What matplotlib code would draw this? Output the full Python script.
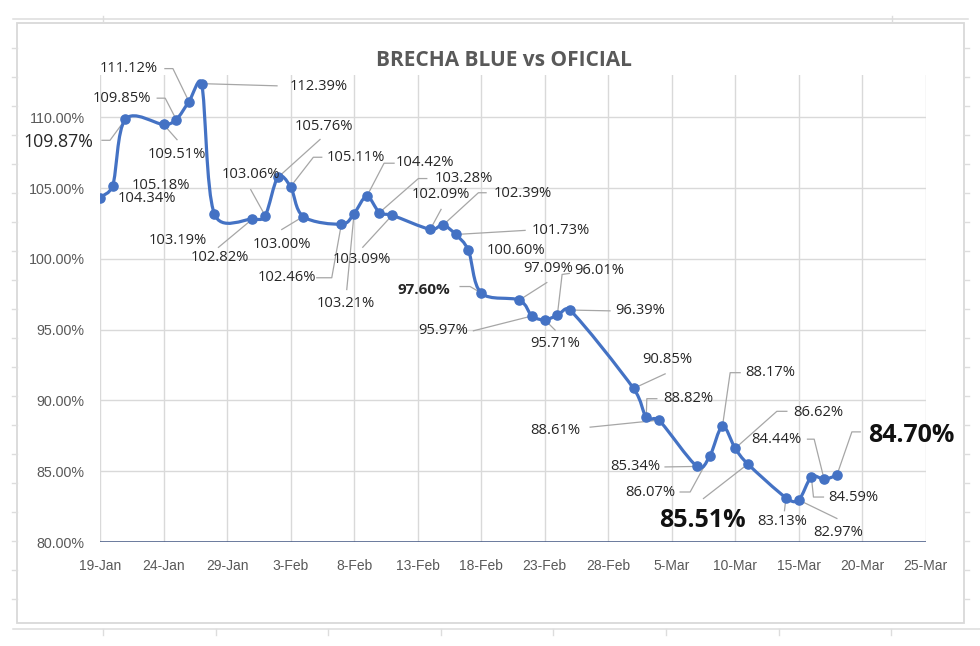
import matplotlib
matplotlib.use("Agg")
import matplotlib.pyplot as plt
import matplotlib.dates as mdates
from matplotlib.path import Path
from matplotlib.patches import PathPatch, Rectangle
from matplotlib.lines import Line2D
import numpy as np
import datetime as dt

# ---------------- data ----------------
dates = ["2022-01-19", "2022-01-20", "2022-01-21", "2022-01-24", "2022-01-25",
         "2022-01-26", "2022-01-27", "2022-01-28", "2022-01-31", "2022-02-01",
         "2022-02-02", "2022-02-03", "2022-02-04", "2022-02-07", "2022-02-08",
         "2022-02-09", "2022-02-10", "2022-02-11", "2022-02-14", "2022-02-15",
         "2022-02-16", "2022-02-17", "2022-02-18", "2022-02-21", "2022-02-22",
         "2022-02-23", "2022-02-24", "2022-02-25", "2022-03-02", "2022-03-03",
         "2022-03-04", "2022-03-07", "2022-03-08", "2022-03-09", "2022-03-10",
         "2022-03-11", "2022-03-14", "2022-03-15", "2022-03-16", "2022-03-17",
         "2022-03-18"]
brecha = [104.34, 105.18, 109.87, 109.51, 109.85, 111.12, 112.39, 103.19, 102.82, 103.06,
          105.76, 105.11, 103.00, 102.46, 103.21, 104.42, 103.28, 103.09, 102.09, 102.39,
          101.73, 100.60, 97.60, 97.09, 95.97, 95.71, 96.01, 96.39, 90.85, 88.82,
          88.61, 85.34, 86.07, 88.17, 86.62, 85.51, 83.13, 82.97, 84.59, 84.44,
          84.70]
y_ticks = [80, 85, 90, 95, 100, 105, 110]
title = "BRECHA BLUE vs OFICIAL"

# ---------------- label layout (pixel offsets, y down) ----------------
label_offsets = [(47, 0.6), (48, 0), (-67, 23), (13.5, 30), (-54, -21), (-60, -33), (117, 3),
                 (-37, 27), (-33, 38), (-14, -41.5), (45.7, -51), (65.5, -28.7), (-21.7, 27.8),
                 (-54.8, 53.6), (-8, 90), (58.3, -33.5), (84.6, -33.9), (-30, 44), (10.8, -34.6),
                 (79.6, -31.8), (105.4, -4.1), (47.7, 0), (-57, -3), (29, -31.6), (-88.8, 14.8),
                 (10.5, 23.8), (41.8, -44.6), (70, 0.8), (33.3, -28.9), (42, -18.5),
                 (-103.8, 10.3), (-62, 0), (-59.6, 35.9), (47.7, -54), (83, -36.3),
                 (-45.2, 56.7), (-3.3, 23.4), (39.5, 32.9), (41.8, 20.5), (-48, -40),
                 (74.4, -40.3)]
leaders = [[], [], [(-23.4, 21), (-15.4, 21)], [(13.5, 15.3)], [(-19, -21.4), (-11, -21.4)],
           [(-24, -33), (-16, -33)], [(75.4, 2.2)], [], [(-34, 28.3)], [(-14.4, -26)],
           [(42.2, -38)], [(31.2, -29.4), (22.8, -29.4)], [(-21.5, 13)],
           [(-24.6, 53.6), (-9.6, 53.6)], [(-7.3, 76)], [(27.3, -33.2), (17.3, -33.2)],
           [(47.3, -34), (38.9, -34)], [(-29.4, 32)], [(10.8, -20)], [(43.1, -32.4), (35.4, -32.4)],
           [(69.4, -4.1)], [], [(-21, -6.4), (-11, -6.4)], [(27.6, -17.6)], [(-58.5, 14.8)],
           [(10.5, 10.4)], [(12, -42), (4.8, -41)], [(40, 0.8)], [(31.6, -14.6)],
           [(10.6, -18.5), (0.6, -18.5)], [(-68.8, 7)], [(-32, 0.5)],
           [(-29.6, 35.9), (-19.6, 35.9)], [(17.7, -53.7), (7.7, -53.7)],
           [(51.7, -37), (41.7, -37)], [(-44.4, 34.5)], [(-1.5, 13)], [(38.2, 18.5)],
           [(12.1, 20), (2.1, 20)], [(-16.6, -40), (-9.9, -40)], [(23.4, -43.6), (15.1, -43.6)]]
label_style = ["n"] * len(brecha)
label_style[2] = "m"
label_style[22] = "b"
label_style[35] = "B"
label_style[40] = "B"

# ---------------- figure ----------------
W, H = 980, 646
fig = plt.figure(figsize=(W / 100, H / 100), dpi=100)
fig.patch.set_facecolor("white")

LBL_FONT = ["Open Sans", "DejaVu Sans"]
AX_FONT = ["Liberation Sans", "DejaVu Sans"]

ax_l, ax_r, ax_t, ax_b = 100, 925.7, 75, 542
ax = fig.add_axes([ax_l / W, 1 - ax_b / H, (ax_r - ax_l) / W, (ax_b - ax_t) / H])
ax.set_facecolor("none")

x = mdates.date2num([dt.datetime.strptime(d, "%Y-%m-%d") for d in dates])
y = np.array(brecha)

x0 = mdates.date2num(dt.datetime(2022, 1, 19))
x1 = mdates.date2num(dt.datetime(2022, 3, 25))
ax.set_xlim(x0, x1)
ax.set_ylim(80, 113)

# grid / ticks
xt = np.arange(x0, x1 + 0.5, 5)
ax.set_xticks(xt)
ax.set_xticklabels([mdates.num2date(v).strftime("%-d-%b") for v in xt],
                   family=AX_FONT, fontsize=10, color="#595959")
ax.set_yticks(y_ticks)
ax.set_yticklabels([f"{v:.2f}%" for v in y_ticks], family=AX_FONT, fontsize=10.3, color="#595959")
ax.tick_params(axis="both", length=0)
ax.tick_params(axis="y", pad=11)
ax.tick_params(axis="x", pad=12)
for v in xt:
    ax.axvline(v, color="#D9D9D9", lw=1, zorder=0)
for v in y_ticks[1:]:
    ax.axhline(v, color="#D9D9D9", lw=1, zorder=0)
for s in ax.spines.values():
    s.set_visible(False)
ax.axhline(80, color="#3F5380", lw=1.8, zorder=1)

# smoothed line (Excel-like bezier smoothing computed in screen space)
disp = ax.transData.transform(np.column_stack([x, y]))
inv = ax.transData.inverted()
n = len(disp)
verts = [disp[0]]
codes = [Path.MOVETO]
for i in range(n - 1):
    p0 = disp[i - 1] if i > 0 else disp[i]
    p1 = disp[i]
    p2 = disp[i + 1]
    p3 = disp[i + 2] if i + 2 < n else disp[i + 1]
    d12 = np.hypot(*(p2 - p1))
    d02 = np.hypot(*(p2 - p0))
    d13 = np.hypot(*(p3 - p1))
    f1 = 1 / 6 if d02 == 0 else min(1 / 6, 0.5 * d12 / d02)
    f2 = 1 / 6 if d13 == 0 else min(1 / 6, 0.5 * d12 / d13)
    c1 = p1 + (p2 - p0) * f1
    c2 = p2 - (p3 - p1) * f2
    verts += [c1, c2, p2]
    codes += [Path.CURVE4] * 3
verts = inv.transform(np.array(verts))
ax.add_patch(PathPatch(Path(verts, codes), facecolor="none", edgecolor="#4472C4",
                       lw=2.3, zorder=3, capstyle="round", joinstyle="round"))
ax.plot(x, y, linestyle="none", marker="o", ms=6.6, color="#4472C4", zorder=4)

# labels + leaders
for i, (xi, yi) in enumerate(zip(x, y)):
    dx, dy = label_offsets[i]
    st = label_style[i]
    kw = dict(family=LBL_FONT, color="#262626", fontsize=10.6)
    if st == "m":
        kw.update(fontsize=12.8)
    elif st == "b":
        kw.update(fontweight="bold", fontsize=11)
    elif st == "B":
        kw.update(fontweight="bold", fontsize=18, color="#111111")
    ax.annotate(f"{yi:.2f}%", xy=(xi, yi), xytext=(dx, -dy), textcoords="offset pixels",
                ha="center", va="center", zorder=6, annotation_clip=False, **kw)
    if leaders[i]:
        px, py = ax.transData.transform((xi, yi))
        pp = [(px + a, py - b) for a, b in leaders[i]] + [(px, py)]
        dat = inv.transform(pp)
        ax.plot(dat[:, 0], dat[:, 1], color="#A6A6A6", lw=0.9, zorder=2, clip_on=False)

# title
fig.text(504 / W, 1 - 60 / H, title, ha="center", va="center", family=LBL_FONT,
         fontweight="bold", fontsize=15, color="#595959")

# chart frame and background sheet lines
def fx(px):
    return px / W

def fy(py):
    return 1 - py / H

fig.add_artist(Rectangle((fx(16.7), fy(623)), fx(964) - fx(16.7), fy(23) - fy(623),
                         transform=fig.transFigure, facecolor="none", edgecolor="#D9D9D9", lw=1.3))
fig.add_artist(Line2D([fx(13), fx(968)], [fy(19), fy(19)], transform=fig.transFigure,
                      color="#DDDDDD", lw=1.1))
fig.add_artist(Line2D([fx(13), fx(980)], [fy(629), fy(629)], transform=fig.transFigure,
                      color="#DDDDDD", lw=1.1))
for tx in [103, 892]:
    fig.add_artist(Line2D([fx(tx), fx(tx)], [fy(16), fy(22)], transform=fig.transFigure,
                          color="#DDDDDD", lw=1))
for tx in np.arange(103, 980, 112.6):
    fig.add_artist(Line2D([fx(tx), fx(tx)], [fy(629), fy(635)], transform=fig.transFigure,
                          color="#DDDDDD", lw=1))
for ty in np.arange(48, 620, 29):
    fig.add_artist(Line2D([fx(12), fx(16.7)], [fy(ty), fy(ty)], transform=fig.transFigure,
                          color="#DDDDDD", lw=1))
    fig.add_artist(Line2D([fx(964), fx(969)], [fy(ty), fy(ty)], transform=fig.transFigure,
                          color="#DDDDDD", lw=1))

fig.savefig("out.png", dpi=100, facecolor="white")
